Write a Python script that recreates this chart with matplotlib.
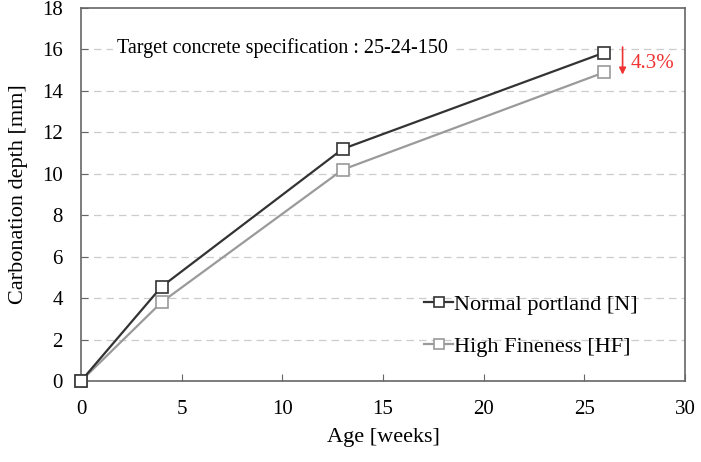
import matplotlib
matplotlib.use("Agg")
import matplotlib.pyplot as plt

plt.rcParams['font.family'] = ['Liberation Serif', 'DejaVu Serif']

age = [0, 4, 13, 26]
normal = [0, 4.55, 11.2, 15.85]
high_fine = [0, 3.8, 10.2, 14.9]
labels = ["Normal portland [N]", "High Fineness [HF]"]

fig = plt.figure(figsize=(7.01, 4.62), dpi=100)
ax = fig.add_axes([81/701, 1-381/462, (685-81)/701, (381-8)/462])

ax.plot(age, normal, color='#333333', lw=1.6, marker='s', ms=9, mfc='white',
        mec='#333333', mew=1.2, label=labels[0], zorder=4, clip_on=False)
ax.plot(age, high_fine, color='#9a9a9a', lw=1.6, marker='s', ms=9, mfc='white',
        mec='#9a9a9a', mew=1.2, label=labels[1], zorder=3, clip_on=False)

ax.set_xlim(0, 30)
ax.set_ylim(0, 18)
ax.set_xticks(range(0, 31, 5))
ax.set_yticks(range(0, 19, 2))
for y in range(2, 18, 2):
    ax.axhline(y, color='#cccccc', lw=0.9, ls=(0, (6, 4)), zorder=1)
ax.tick_params(direction='in', length=5, labelsize=15, color='#666666')
ax.tick_params(axis='x', pad=14)
ax.tick_params(axis='y', pad=13)
for s in ax.spines.values():
    s.set_color('#666666')
    s.set_linewidth(1.2)

ax.set_xlabel("Age [weeks]", fontsize=16, labelpad=6)
ax.set_ylabel("Carbonation depth [mm]", fontsize=16, labelpad=10)

ax.text(1.8, 16.07, "Target concrete specification : 25-24-150", fontsize=14.5,
        va='center', ha='left', zorder=5,
        bbox=dict(facecolor='white', edgecolor='none', pad=3))

ax.annotate("", xy=(26.9, 14.65), xytext=(26.9, 16.25),
            arrowprops=dict(arrowstyle='-|>', color='#ee3333', lw=1.2, mutation_scale=10))
ax.text(27.3, 15.3, "4.3%", color='#ee3333', fontsize=15, va='center', ha='left')

leg = ax.legend(loc='lower right', bbox_to_anchor=(0.955, 0.012), frameon=False,
                fontsize=16, handlelength=1.3, handletextpad=0.05, labelspacing=0.95,
                markerscale=0.75)

fig.savefig("out.png", dpi=100)
